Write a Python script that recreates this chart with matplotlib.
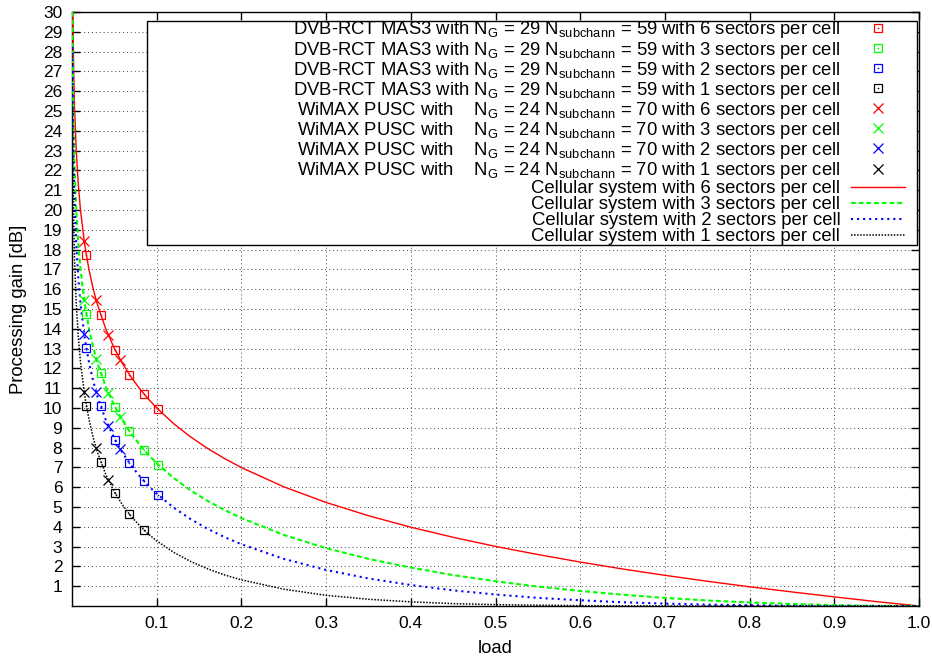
import matplotlib
matplotlib.use('Agg')
import matplotlib.pyplot as plt
from matplotlib.patches import Rectangle

plt.rcParams['font.family'] = ['Liberation Sans', 'DejaVu Sans']
plt.rcParams['mathtext.fontset'] = 'custom'
plt.rcParams['mathtext.rm'] = 'Liberation Sans'
plt.rcParams['mathtext.it'] = 'Liberation Sans:italic'
plt.rcParams['font.size'] = 12

# Cellular system curves (processing gain in dB vs load)
load = [0.0005, 0.001, 0.002, 0.003, 0.005, 0.0075, 0.01, 0.015, 0.02, 0.025, 0.03,
        0.04, 0.05, 0.06, 0.07, 0.08, 0.09, 0.1, 0.12, 0.14, 0.16, 0.18, 0.2,
        0.25, 0.3, 0.35, 0.4, 0.45, 0.5, 0.55, 0.6, 0.65, 0.7, 0.75, 0.8, 0.85,
        0.9, 0.95, 1.0]
cell_6 = [33.01, 30.00, 26.99, 25.23, 23.01, 21.25, 20.00, 18.24, 16.99, 16.02, 15.23,
          13.98, 13.01, 12.22, 11.55, 10.97, 10.46, 10.00, 9.21, 8.54, 7.96, 7.45, 6.99,
          6.02, 5.23, 4.56, 3.98, 3.47, 3.01, 2.60, 2.22, 1.87, 1.55, 1.25, 0.97, 0.71,
          0.46, 0.22, 0.00]
cell_3 = [30.00, 26.99, 23.98, 22.22, 20.01, 18.26, 17.01, 15.26, 14.02, 13.07, 12.28,
          11.06, 10.11, 9.34, 8.69, 8.14, 7.65, 7.21, 6.47, 5.84, 5.31, 4.85, 4.44,
          3.59, 2.92, 2.38, 1.94, 1.56, 1.25, 0.98, 0.76, 0.57, 0.41, 0.28, 0.18, 0.10,
          0.04, 0.01, 0.00]
cell_2 = [28.24, 25.23, 22.23, 20.47, 18.26, 16.51, 15.27, 13.53, 12.31, 11.36, 10.59,
          9.38, 8.46, 7.71, 7.09, 6.55, 6.08, 5.67, 4.97, 4.39, 3.90, 3.48, 3.12,
          2.38, 1.82, 1.39, 1.06, 0.79, 0.58, 0.41, 0.29, 0.19, 0.12, 0.07, 0.04, 0.01,
          0.00, 0.00, 0.00]
cell_1 = [25.23, 22.23, 19.23, 17.48, 15.28, 13.55, 12.33, 10.62, 9.43, 8.51, 7.77,
          6.63, 5.77, 5.08, 4.52, 4.05, 3.64, 3.29, 2.71, 2.25, 1.88, 1.57, 1.32,
          0.85, 0.54, 0.34, 0.21, 0.12, 0.07, 0.04, 0.02, 0.01, 0.00, 0.00, 0.00, 0.00,
          0.00, 0.00, 0.00]

# DVB-RCT MAS3 points (N_subchann = 59)
dvb_load = [0.0169, 0.0339, 0.0508, 0.0678, 0.0847, 0.1017]
dvb_6 = [17.71, 14.70, 12.94, 11.69, 10.72, 9.93]
dvb_3 = [14.73, 11.76, 10.04, 8.83, 7.90, 7.14]
dvb_2 = [13.01, 10.08, 8.39, 7.21, 6.32, 5.61]
dvb_1 = [10.11, 7.28, 5.71, 4.64, 3.85]

# WiMAX PUSC points (N_subchann = 70)
wimax_load = [0.0143, 0.0286, 0.0429, 0.0571]
wimax_6 = [18.45, 15.44, 13.68, 12.43]
wimax_3 = [15.47, 12.49, 10.76, 9.55]
wimax_2 = [13.74, 10.79, 9.10, 7.91]
wimax_1 = [10.82, 7.97, 6.36]

sectors = [6, 3, 2, 1]
colors = ['#ff0000', '#00ff00', '#0000ff', '#000000']

x_ticks = [0.1, 0.2, 0.3, 0.4, 0.5, 0.6, 0.7, 0.8, 0.9, 1.0]
x_ticklabels = ['0.1', '0.2', '0.3', '0.4', '0.5', '0.6', '0.7', '0.8', '0.9', '1.0']
y_ticks = list(range(1, 31))

fig = plt.figure(figsize=(9.32, 6.64), dpi=100)
ax = fig.add_axes([72 / 932, 1 - 606 / 664, 847 / 932, 594 / 664])

handles = []
labels = []

# square points
for s, c, y in zip(sectors, colors, [dvb_6, dvb_3, dvb_2, dvb_1]):
    sq, = ax.plot(dvb_load[:len(y)], y, linestyle='none', marker='s', ms=6.3,
                  mfc='none', mec=c, mew=0.9, zorder=4)
    dot, = ax.plot(dvb_load[:len(y)], y, linestyle='none', marker='o', ms=1.2,
                   mfc=c, mec=c, mew=0, zorder=4)
    handles.append((sq, dot))
    labels.append('DVB-RCT MAS3 with N$_\\mathrm{G}$ = 29 N$_\\mathrm{subchann}$ = 59 '
                  'with %d sectors per cell' % s)

# cross points
for s, c, y in zip(sectors, colors, [wimax_6, wimax_3, wimax_2, wimax_1]):
    cr, = ax.plot(wimax_load[:len(y)], y, linestyle='none', marker='x', ms=6.5,
                  mec=c, mew=0.9, zorder=4)
    handles.append(cr)
    labels.append('WiMAX PUSC with    N$_\\mathrm{G}$ = 24 N$_\\mathrm{subchann}$ = 70 '
                  'with %d sectors per cell' % s)

# cellular system curves
line_styles = [
    dict(linestyle='-', lw=1.0),
    dict(linestyle=(0, (2.3, 1.4)), lw=1.5),
    dict(linestyle=(0, (1.0, 1.9)), lw=1.5),
    dict(linestyle=(0, (1.0, 1.0)), lw=1.1),
]
for s, c, y, st in zip(sectors, colors, [cell_6, cell_3, cell_2, cell_1], line_styles):
    ln, = ax.plot(load, y, color=c, zorder=3, **st)
    handles.append(ln)
    labels.append('Cellular system with %d sectors per cell' % s)

ax.set_xlim(0, 1.0)
ax.set_ylim(0, 30)
ax.set_xticks(x_ticks)
ax.set_xticklabels(x_ticklabels)
ax.set_yticks(y_ticks)
ax.tick_params(direction='in', top=True, right=True, length=6, width=1,
               labelsize=12.5, pad=7)
ax.grid(True, color='#444444', linestyle=(0, (1, 3)), lw=0.7)
for sp in ax.spines.values():
    sp.set_linewidth(1)
ax.set_xlabel('load', fontsize=13.3, labelpad=7)
ax.set_ylabel('Processing gain [dB]', fontsize=13.3, labelpad=11)

# key box
ax.add_patch(Rectangle((75 / 847, 361 / 594), 770 / 847, 224 / 594,
                       transform=ax.transAxes, facecolor='white',
                       edgecolor='black', lw=1, zorder=5))
leg = ax.legend(handles, labels, loc='upper right',
                bbox_to_anchor=(905 / 932, 1 - 19.5 / 664),
                bbox_transform=fig.transFigure, frameon=False, markerfirst=False,
                handlelength=2.9, handletextpad=0.6, borderpad=0,
                borderaxespad=0, labelspacing=-0.05, numpoints=1, fontsize=13.3)
leg.set_zorder(6)

fig.savefig('out.png', dpi=100)
